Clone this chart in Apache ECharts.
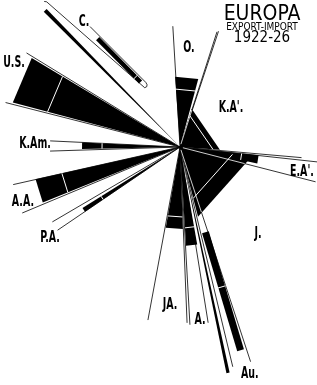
<!DOCTYPE html>
<html>
<head>
<meta charset="utf-8">
<script src="https://cdn.jsdelivr.net/npm/echarts@6/dist/echarts.min.js"></script>
<style>
  html, body { margin: 0; padding: 0; background: #fff; }
  #chart { width: 317px; height: 385px; }
</style>
</head>
<body>
<div id="chart"></div>
<script>
// Europa Export-Import 1922-26 : one ray bundle per region
const regions = ['O.', "K.A'.", "E.A'.", 'J.', 'Au.', 'A.', 'JA.', 'P.A.', 'A.A.', 'K.Am.', 'U.S.', 'C.']
// black wedge: angular span (degrees, counter-clockwise from east) and length
const blackFrom = [75, -4, -12, -75.5, 281.6, 273.5, 260, 212, 192.6, 177.3, 149, 134]
const blackTo = [94, 73, -6, -8, 282.4, 280, 272, 214.3, 202, 181.2, 165.1, 135.2]
const blackLen = [70.5, 40, 79, 72, 231, 99, 82, 115, 148, 98, 173, 192]
const splitLen = [58, 33, 62, 53, 0, 81, 70, 93, 121, 78, 137, 0]
// thin outline: two rays
const rayFrom = [72.2, -5, -14.4, 0, 283.5, 273.2, 259.5, 210.4, 192.7, 177.3, 148.5, 0]
const rayTo = [93.4, 71.6, -6.2, 0, 288.2, 279.1, 272.3, 214.2, 202.7, 181.8, 165.7, 0]
const rayLen = [121, 122, 140, 0, 226, 178, 176, 148, 171, 130, 180, 0]
// detached bars (C. and Au.)
const barRegion = ['C.', 'Au.']
const barAngle = [134.6, 286.6]
const barStart = [74, 89]
const barEnd = [135, 212]
const barSplit = [81, 146]

// layout only
const labelR = [99.4, 64.2, 124.5, 116.8, 237.5, 174.2, 158.3, 158.7, 166.4, 145, 186, 157.6]
const labelA = [84.8, 37.4, -11.6, -48.1, 287.1, 276.6, 266.4, 215, 199.3, 178.8, 153.2, 127.5]
const barOffset = [17.5, 0]
const barWidth = [4.5, 7]
const sleeve = [[149, 20.5], [70, 21], [67.5, 20.3], [66.3, 18.7], [67, 16.5], [197, 7], [199, 5.5]]

const INK = '#000'
const FONT = '"Liberation Sans Narrow", "DejaVu Sans Condensed", sans-serif'
const D = Math.PI / 180

function side(api, ang, s, d) {
  // point s along direction ang, d px to its clockwise side
  return api.coord([Math.hypot(s, d), ang - Math.atan2(d, s) / D])
}

function reach(j, a) {
  // how far black wedge j goes along angle a (0 if a is outside it)
  const span = ((blackTo[j] - blackFrom[j]) % 360 + 360) % 360
  const rel = ((a - blackFrom[j]) % 360 + 360) % 360
  if (rel < 0.4 || rel > span - 0.4) return 0
  const h = span / 2
  return blackLen[j] * Math.cos(h * D) / Math.cos((rel - h) * D)
}

function line(p, q, color, w) {
  return { type: 'line', shape: { x1: p[0], y1: p[1], x2: q[0], y2: q[1] }, style: { stroke: color, lineWidth: w } }
}

function renderRays(params, api) {
  const i = params.dataIndex
  const c = api.coord([0, 0])
  const kids = []
  if (rayLen[i] > 0) {
    kids.push(line(c, api.coord([rayLen[i], rayFrom[i]]), INK, 0.8))
    kids.push(line(c, api.coord([rayLen[i], rayTo[i]]), INK, 0.8))
  }
  const b = barRegion.indexOf(regions[i])
  if (b === 0) {
    kids.push({
      type: 'polyline',
      shape: { points: sleeve.map(p => side(api, barAngle[b], p[0], p[1])) },
      style: { stroke: INK, lineWidth: 0.8, fill: null }
    })
  }
  return { type: 'group', children: kids }
}

function renderBlack(params, api) {
  const i = params.dataIndex
  const c = api.coord([0, 0])
  const kids = [{
    type: 'polygon',
    shape: { points: [c, api.coord([blackLen[i], blackFrom[i]]), api.coord([blackLen[i], blackTo[i]])] },
    style: { fill: INK }
  }]
  const b = barRegion.indexOf(regions[i])
  if (b >= 0) {
    const off = barOffset[b], w = barWidth[b] / 2
    kids.push({
      type: 'polygon',
      shape: { points: [
        side(api, barAngle[b], barStart[b], off - w),
        side(api, barAngle[b], barEnd[b], off - w),
        side(api, barAngle[b], barEnd[b], off + w),
        side(api, barAngle[b], barStart[b], off + w)
      ] },
      style: { fill: INK }
    })
  }
  return { type: 'group', children: kids }
}

function renderWhite(params, api) {
  const i = params.dataIndex
  const kids = []
  if (splitLen[i] > 0) {
    kids.push(line(api.coord([splitLen[i], blackFrom[i]]), api.coord([splitLen[i], blackTo[i]]), '#fff', 1))
  }
  // outline rays show white where they cross another region's black
  if (rayLen[i] > 0) {
    [rayFrom[i], rayTo[i]].forEach(a => {
      let far = 0
      regions.forEach((n, j) => { if (j !== i) far = Math.max(far, reach(j, a)) })
      if (far > 4) kids.push(line(api.coord([3, a]), api.coord([Math.min(rayLen[i], far - 0.6), a]), '#fff', 0.8))
    })
  }
  const b = barRegion.indexOf(regions[i])
  if (b >= 0) {
    const off = barOffset[b], w = barWidth[b] / 2 + 0.5
    kids.push(line(side(api, barAngle[b], barSplit[b], off - w), side(api, barAngle[b], barSplit[b], off + w), '#fff', 1))
  }
  return { type: 'group', children: kids }
}

function renderLabels(params, api) {
  const i = params.dataIndex
  const p = api.coord([labelR[i], labelA[i]])
  return {
    type: 'text',
    x: p[0],
    y: p[1],
    scaleX: 0.7,
    style: {
      text: regions[i], x: 0, y: 0, fill: INK,
      fontFamily: FONT, fontWeight: 'bold', fontSize: 15,
      align: 'center', verticalAlign: 'middle', textAlign: 'center', textVerticalAlign: 'middle'
    }
  }
}

const chart = echarts.init(document.getElementById('chart'))
const items = regions.map((n, i) => [i, 0])
const base = { type: 'custom', coordinateSystem: 'polar', data: items, silent: true }

chart.setOption({
  animation: false,
  backgroundColor: '#fff',
  polar: { center: [180, 147], radius: 250 },
  angleAxis: { type: 'value', min: 0, max: 360, startAngle: 0, clockwise: false, show: false },
  radiusAxis: { type: 'value', min: 0, max: 250, show: false },
  graphic: [
    { type: 'text', x: 262, y: 15, style: { text: 'EUROPA', fill: INK, fontFamily: FONT, fontSize: 21, align: 'center', verticalAlign: 'middle', textAlign: 'center', textVerticalAlign: 'middle' } },
    { type: 'text', x: 262, y: 27, style: { text: 'EXPORT-IMPORT', fill: INK, fontFamily: FONT, fontSize: 10, align: 'center', verticalAlign: 'middle', textAlign: 'center', textVerticalAlign: 'middle' } },
    { type: 'text', x: 262, y: 38, style: { text: '1922-26', fill: INK, fontFamily: FONT, fontSize: 15, align: 'center', verticalAlign: 'middle', textAlign: 'center', textVerticalAlign: 'middle' } }
  ],
  series: [
    Object.assign({ renderItem: renderRays, z: 1 }, base),
    Object.assign({ renderItem: renderBlack, z: 2 }, base),
    Object.assign({ renderItem: renderWhite, z: 3 }, base),
    Object.assign({ renderItem: renderLabels, z: 4 }, base)
  ]
})
</script>
</body>
</html>
